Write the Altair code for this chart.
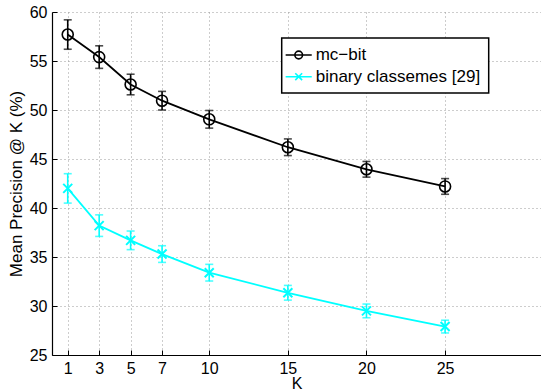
import altair as alt
import pandas as pd

K = [1, 3, 5, 7, 10, 15, 20, 25]
series_names = ["mc\u2212bit", "binary classemes [29]"]
mcbit = [57.7, 55.4, 52.6, 50.95, 49.05, 46.2, 43.95, 42.2]
mcbit_err = [1.5, 1.15, 1.05, 0.95, 0.9, 0.85, 0.8, 0.8]
binary = [42.0, 38.2, 36.7, 35.3, 33.4, 31.35, 29.5, 27.9]
binary_err = [1.5, 1.1, 0.95, 0.85, 0.85, 0.75, 0.7, 0.65]
y_ticks = [25, 30, 35, 40, 45, 50, 55, 60]

colors = ["#000000", "#00FFFF"]
legend_paths = [
    "M-1.6,0H1.6M-0.47,0A0.47,0.47 0 1,1 0.47,0A0.47,0.47 0 1,1 -0.47,0Z",
    "M-1.6,0H1.6M-0.42,-0.42L0.42,0.42M-0.42,0.42L0.42,-0.42",
]

rows = []
for name, vals, errs in [(series_names[0], mcbit, mcbit_err), (series_names[1], binary, binary_err)]:
    for k, v, e in zip(K, vals, errs):
        rows.append({"K": k, "value": v, "lo": v - e, "hi": v + e, "series": name})
df = pd.DataFrame(rows)

FONT = "Liberation Sans"

xs = alt.Scale(domain=[0, 31.1], nice=False, zero=False)
ys = alt.Scale(domain=[25, 60], nice=False, zero=False)

x_enc = alt.X("K:Q", scale=xs, axis=alt.Axis(values=K, title="K", grid=True, ticks=False,
                                             labelFontSize=16, titleFontSize=16, labelPadding=5,
                                             titlePadding=-1, titleFontWeight="normal"))
y_enc = alt.Y("value:Q", scale=ys, axis=alt.Axis(values=y_ticks, title="Mean Precision @ K (%)", grid=True,
                                                 ticks=False, labelFontSize=16, titleFontSize=17,
                                                 labelPadding=5, titlePadding=4, titleFontWeight="normal"))

layers = []
for name, col in zip(series_names, colors):
    base = alt.Chart(df).transform_filter(alt.datum.series == name)
    line = base.mark_line(strokeWidth=1.8, color=col).encode(x=x_enc, y=y_enc)
    rule = base.mark_rule(strokeWidth=1.6, color=col).encode(x="K:Q", y="lo:Q", y2="hi:Q")
    cap_lo = base.mark_tick(orient="horizontal", size=8, thickness=1.6, color=col).encode(x="K:Q", y="lo:Q")
    cap_hi = base.mark_tick(orient="horizontal", size=8, thickness=1.6, color=col).encode(x="K:Q", y="hi:Q")
    layers += [line, rule, cap_lo, cap_hi]

pts_circle = alt.Chart(df).transform_filter(alt.datum.series == series_names[0]).mark_point(
    shape="circle", size=121, filled=False, strokeWidth=1.6, color=colors[0], opacity=1
).encode(x="K:Q", y="value:Q")
pts_x = alt.Chart(df).transform_filter(alt.datum.series == series_names[1]).mark_point(
    shape="M-1,-1L1,1M-1,1L1,-1", size=81, filled=False, strokeWidth=2, color=colors[1], opacity=1
).encode(x="K:Q", y="value:Q")
layers += [pts_circle, pts_x]

leg = alt.Legend(title=None, orient="none", legendX=229.7, legendY=26, strokeColor="black",
                 fillColor="white", padding=8, labelFontSize=17, labelFont=FONT, symbolSize=266,
                 symbolStrokeWidth=1.6, labelOffset=8, rowPadding=4.7, labelLimit=400)
legend_layer = alt.Chart(df).transform_filter("false").mark_point(filled=False, strokeWidth=1.6, opacity=1).encode(
    color=alt.Color("series:N", scale=alt.Scale(domain=series_names, range=colors), legend=leg),
    shape=alt.Shape("series:N", scale=alt.Scale(domain=series_names, range=legend_paths), legend=leg),
)
layers.append(legend_layer)

main = alt.layer(*layers)

# inward tick marks: an extra axis pair pulled inside the plot by their own length
tick_layer = alt.Chart(df).transform_filter("false").mark_point().encode(
    x=alt.X("K:Q", scale=xs, axis=alt.Axis(values=K, orient="bottom", offset=-5, ticks=True, tickSize=5,
                                           tickWidth=1, tickColor="black", labels=False, domain=False,
                                           grid=False, title=None)),
    y=alt.Y("value:Q", scale=ys, axis=alt.Axis(values=y_ticks, orient="left", offset=-5, ticks=True, tickSize=5,
                                               tickWidth=1, tickColor="black", labels=False, domain=False,
                                               grid=False, title=None)),
)

chart = alt.layer(main, tick_layer).resolve_axis(x="independent", y="independent").properties(
    width=489, height=343,
    autosize=alt.AutoSizeParams(type="none"),
    padding={"left": 52, "top": 12, "right": 0, "bottom": 36},
    background="white",
).configure_view(stroke=None).configure_axis(
    labelFont=FONT, titleFont=FONT, labelColor="black", titleColor="black",
    domainColor="black", domainWidth=1.2, gridColor="#9a9a9a", gridDash=[1, 3], gridWidth=1,
).configure_legend(strokeWidth=1.5)

chart.save("out.html", embed_options={"renderer": "svg", "actions": False})
